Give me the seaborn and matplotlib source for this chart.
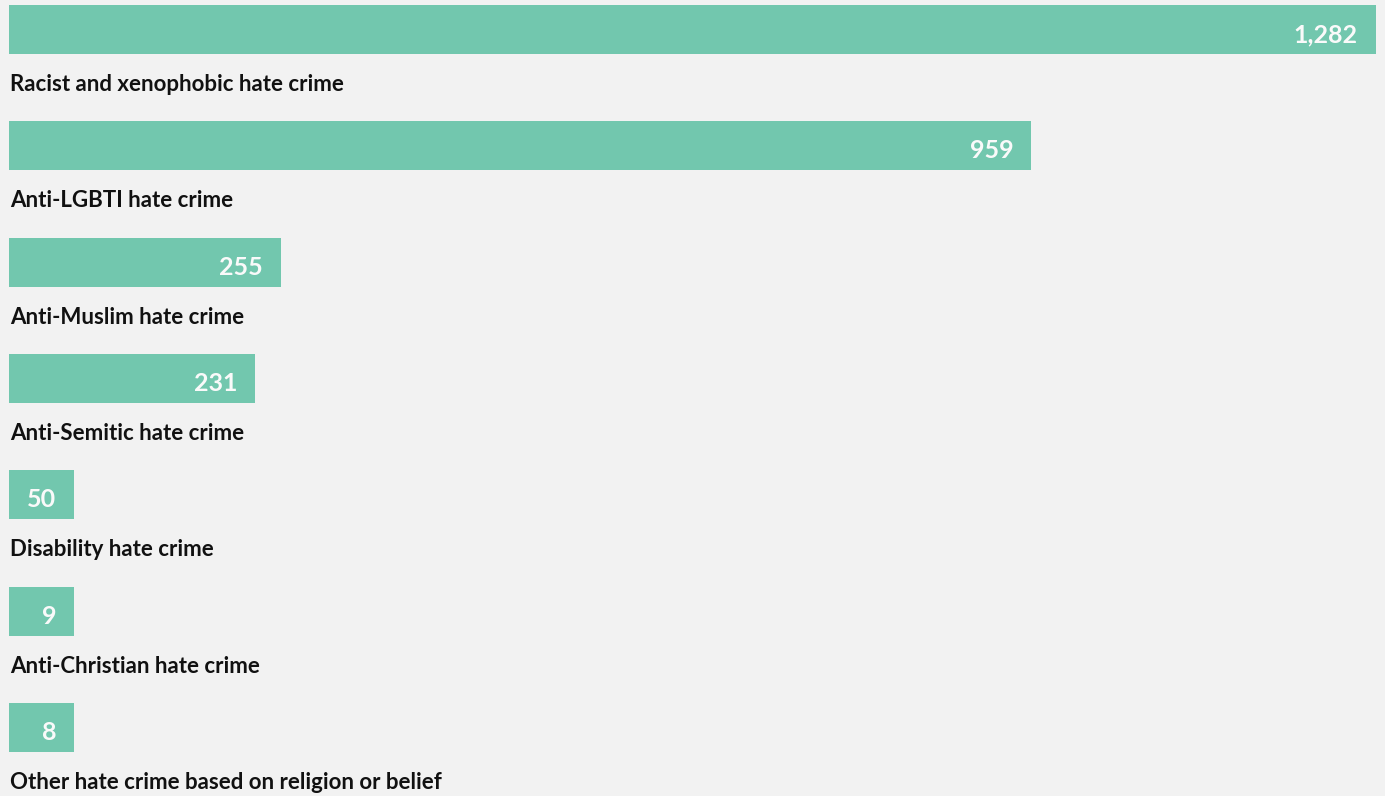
import matplotlib
matplotlib.use("Agg")
import matplotlib.pyplot as plt
import seaborn as sns
import pandas as pd
import numpy as np

categories = [
    "Racist and xenophobic hate crime",
    "Anti-LGBTI hate crime",
    "Anti-Muslim hate crime",
    "Anti-Semitic hate crime",
    "Disability hate crime",
    "Anti-Christian hate crime",
    "Other hate crime based on religion or belief",
]
values = [1282, 959, 255, 231, 50, 9, 8]

sns.set_theme(style="white")
plt.rcParams['font.family'] = ['Lato', 'DejaVu Sans']

BG = "#f2f2f2"
BAR = "#72c7ae"

W, H, DPI = 1385, 796, 100
fig = plt.figure(figsize=(W / DPI, H / DPI), dpi=DPI, facecolor=BG)
ax = fig.add_axes([0, 0, 1, 1])
ax.set_facecolor(BG)

px_per_unit = (1375.5 - 9) / max(values)
min_width = 65 / px_per_unit
display = [max(v, min_width) for v in values]

df = pd.DataFrame({"cat": categories, "val": display})
pitch = 116.33
bar_h = 49 / pitch
sns.barplot(data=df, x="val", y="cat", orient="h", color=BAR, width=bar_h,
            saturation=1, ax=ax, edgecolor="none", linewidth=0)

ax.set_xlim(-9 / px_per_unit, (W - 9) / px_per_unit)
ax.set_ylim((H - 29.5) / pitch, -29.5 / pitch)
ax.axis("off")

for i, (cat, v, d) in enumerate(zip(categories, values, display)):
    ax.text(d - 18 / px_per_unit, i + 12.5 / pitch, f"{v:,}", ha="right", va="baseline",
            color="#fafafa", fontsize=18, fontweight="bold")
    ax.text(1 / px_per_unit, i + 61.5 / pitch, cat, ha="left", va="baseline",
            color="#111111", fontsize=16, fontweight="bold")

fig.savefig("out.png", dpi=DPI, facecolor=BG)
